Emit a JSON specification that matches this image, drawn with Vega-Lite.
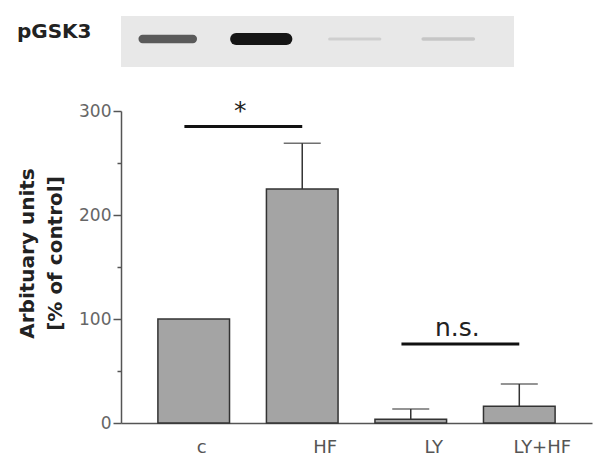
{
  "$schema": "https://vega.github.io/schema/vega-lite/v6.json",
  "padding": {"left": 16, "top": 16, "right": 5, "bottom": 5},
  "background": "white",
  "config": {"font": "DejaVu Sans", "view": {"stroke": null}},
  "datasets": {
    "blot": [
      {"protein": "pGSK3", "lane": "c", "intensity": 62},
      {"protein": "pGSK3", "lane": "HF", "intensity": 100},
      {"protein": "pGSK3", "lane": "LY", "intensity": 8},
      {"protein": "pGSK3", "lane": "LY+HF", "intensity": 12}
    ],
    "bars": [
      {"group": "c", "mean": 100, "upper": null},
      {"group": "HF", "mean": 225, "upper": 269},
      {"group": "LY", "mean": 3.5, "upper": 13.5},
      {"group": "LY+HF", "mean": 16, "upper": 37.5}
    ],
    "sig": [
      {"from": "c", "to": "HF", "y": 285, "label": "*"},
      {"from": "LY", "to": "LY+HF", "y": 76, "label": "n.s."}
    ]
  },
  "spacing": 31,
  "vconcat": [
    {
      "width": 393,
      "height": 51,
      "view": {"fill": "#e8e8e8", "stroke": null},
      "data": {"name": "blot"},
      "mark": {"type": "rule", "strokeCap": "round"},
      "encoding": {
        "x": {"field": "lane", "type": "nominal", "bandPosition": 0.08,
              "scale": {"domain": ["c", "HF", "LY", "LY+HF"], "range": [0, 374], "paddingInner": 0.36, "paddingOuter": 0.18}, "axis": null},
        "x2": {"field": "lane", "bandPosition": 0.92},
        "y": {"field": "protein", "type": "nominal", "scale": {"range": [0, 46]},
              "axis": {"title": null, "ticks": false, "domain": false, "labelFontSize": 20, "labelFontWeight": "bold",
                       "labelColor": "#222", "labelPadding": 30, "labelOffset": -7}},
        "strokeWidth": {"field": "intensity", "type": "quantitative", "scale": {"range": [3, 12]}, "legend": null},
        "color": {"field": "intensity", "type": "quantitative", "scale": {"range": ["#cfcfcf", "#151515"]}, "legend": null}
      }
    },
    {
      "width": 471,
      "height": 312,
      "encoding": {
        "x": {"field": "group", "type": "nominal",
              "scale": {"domain": ["c", "HF", "LY", "LY+HF"], "paddingInner": 0.34, "paddingOuter": 0.34},
              "axis": {"title": null, "ticks": false, "domainColor": "#555", "domainWidth": 1.5, "labelColor": "#555",
                       "labelFontSize": 18, "labelPadding": 15, "labelAngle": 0,
                       "labelOffset": {"condition": {"test": "datum.value === 'c'", "value": 8}, "value": 23}}}
      },
      "layer": [
        {
          "data": {"name": "bars"},
          "mark": {"type": "bar", "fill": "#a4a4a4", "stroke": "#333", "strokeWidth": 1.5},
          "encoding": {
            "y": {"field": "mean", "type": "quantitative", "scale": {"domain": [0, 300], "nice": false},
                  "axis": {"values": [0, 50, 100, 150, 200, 250, 300],
                           "labelExpr": "datum.value % 100 === 0 ? datum.label : ''",
                           "tickSize": {"condition": {"test": "datum.value % 100 === 0", "value": 8}, "value": 4},
                           "grid": false, "domainColor": "#555", "domainWidth": 1.5, "tickColor": "#555", "tickWidth": 1.5,
                           "labelColor": "#666", "labelFontSize": 17, "labelPadding": 2, "labelOverlap": false,
                           "title": ["Arbituary units", "[% of control]"], "titleFontSize": 20, "titleFontWeight": "bold",
                           "titleColor": "#222", "titlePadding": 13, "titleLineHeight": 28, "titleY": 142}}
          }
        },
        {
          "data": {"name": "bars"},
          "transform": [{"filter": "datum.upper != null"}],
          "mark": {"type": "rule", "color": "#333", "strokeWidth": 1.5},
          "encoding": {
            "y": {"field": "mean", "type": "quantitative"},
            "y2": {"field": "upper"}
          }
        },
        {
          "data": {"name": "bars"},
          "transform": [{"filter": "datum.upper != null"}],
          "mark": {"type": "tick", "color": "#333", "thickness": 1.5, "size": 37},
          "encoding": {
            "y": {"field": "upper", "type": "quantitative"}
          }
        },
        {
          "data": {"name": "sig"},
          "mark": {"type": "rule", "color": "#111", "strokeWidth": 3},
          "encoding": {
            "x": {"field": "from", "type": "nominal", "bandPosition": 0.37},
            "x2": {"field": "to", "bandPosition": 0.5},
            "y": {"field": "y", "type": "quantitative"}
          }
        },
        {
          "data": {"name": "sig"},
          "mark": {"type": "text", "fontSize": 25, "dy": -8, "baseline": "alphabetic", "color": "#222"},
          "encoding": {
            "x": {"field": "from", "type": "nominal", "bandPosition": 1.15},
            "y": {"field": "y", "type": "quantitative"},
            "text": {"field": "label"}
          }
        }
      ]
    }
  ]
}
